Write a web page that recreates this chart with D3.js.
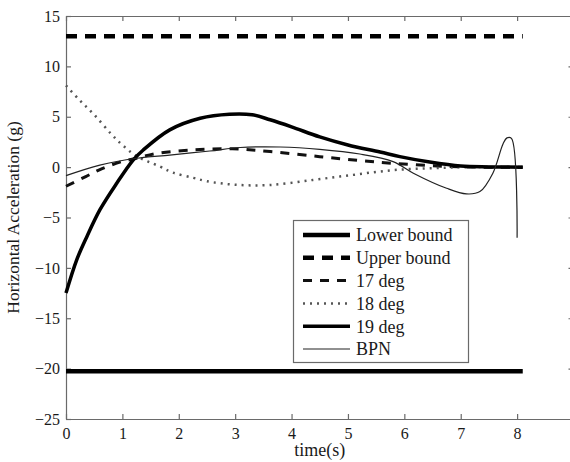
<!DOCTYPE html>
<html>
<head>
<meta charset="utf-8">
<script src="https://cdn.jsdelivr.net/npm/d3@7"></script>
<style>
  html, body { margin: 0; padding: 0; background: #fff; overflow: hidden; }
  svg { display: block; }
  text { font-family: "Liberation Serif", "Times New Roman", serif; fill: #1a1a1a; }
</style>
</head>
<body>
<svg id="chart" width="570" height="462"></svg>
<script>
// Horizontal acceleration profiles vs. time for several launch angles
const xTicks = [0, 1, 2, 3, 4, 5, 6, 7, 8, 9];
const yTicks = [-25, -20, -15, -10, -5, 0, 5, 10, 15];

const boundTime = [0, 8.1];
const lowerBound = [-20.25, -20.25];
const upperBound = [13, 13];

const t17 = [0, 0.35, 0.64, 0.99, 1.25, 1.6, 2.26, 2.95, 3.62, 4.5, 5.21, 5.8, 6.45, 7.0, 8.1];
const v17 = [-1.9, -0.94, -0.15, 0.55, 0.88, 1.35, 1.72, 1.82, 1.55, 1.04, 0.65, 0.38, 0.15, 0.02, 0];

const t18 = [0, 0.25, 0.5, 0.8, 1.0, 1.25, 1.67, 1.9, 2.26, 2.5, 3.0, 3.6, 4.38, 5.09, 5.8, 6.5, 7.2, 8.1];
const v18 = [8.1, 6.6, 5.2, 3.3, 2.2, 1.1, 0.05, -0.55, -1.07, -1.4, -1.75, -1.78, -1.27, -0.77, -0.3, -0.1, 0, 0];

const t19 = [0, 0.19, 0.37, 0.6, 0.9, 1.19, 1.37, 1.84, 2.38, 2.9, 3.3, 3.62, 4.0, 4.5, 5.0, 5.57, 5.92, 6.45, 7.0, 7.5, 8.1];
const v19 = [-12.5, -9.2, -6.9, -4.25, -1.6, 0.7, 1.7, 3.7, 4.85, 5.25, 5.2, 4.7, 4.0, 3.0, 2.2, 1.5, 1.04, 0.5, 0.1, 0.02, 0];

const tBPN = [0, 0.6, 1.25, 1.84, 2.55, 3.09, 3.8, 4.5, 5.21, 5.8, 6.16, 6.75, 7.1, 7.34, 7.57, 7.75, 7.82, 7.9, 8.0];
const vBPN = [-0.85, 0.2, 0.88, 1.2, 1.6, 1.95, 2.0, 1.77, 1.3, 0.55, -0.6, -2.1, -2.66, -2.43, -0.6, 2.3, 2.9, 2.85, -7.0];

const seriesNames = ["Lower bound", "Upper bound", "17 deg", "18 deg", "19 deg", "BPN"];

const zip = (ts, vs) => ts.map((t, i) => ({ t, v: vs[i] }));

const series = [
  { name: seriesNames[0], data: zip(boundTime, lowerBound), width: 4.5, dash: null, color: "#000" },
  { name: seriesNames[1], data: zip(boundTime, upperBound), width: 4.5, dash: "11,8", color: "#000" },
  { name: seriesNames[2], data: zip(t17, v17), width: 3, dash: "9,8", color: "#111" },
  { name: seriesNames[3], data: zip(t18, v18), width: 2.5, dash: "2,5", color: "#555" },
  { name: seriesNames[4], data: zip(t19, v19), width: 3.5, dash: null, color: "#000" },
  { name: seriesNames[5], data: zip(tBPN, vBPN), width: 1.2, dash: null, color: "#222" }
];

const svg = d3.select("#chart");
const plotLeft = 66, plotRight = 573.5, plotTop = 16, plotBottom = 419;

const x = d3.scaleLinear().domain([0, 9]).range([plotLeft, plotRight]);
const y = d3.scaleLinear().domain([-25, 15]).range([plotBottom, plotTop]);

const axisColor = "#6a6a6a";

// frame axes with inward ticks
const gx = svg.append("g").attr("transform", `translate(0,${plotBottom})`)
  .call(d3.axisBottom(x).tickValues(xTicks).tickSizeInner(-5).tickSizeOuter(0).tickPadding(9));
const gy = svg.append("g").attr("transform", `translate(${plotLeft},0)`)
  .call(d3.axisLeft(y).tickValues(yTicks).tickSizeInner(-5).tickSizeOuter(0).tickPadding(6));
const gt = svg.append("g").attr("transform", `translate(0,${plotTop})`)
  .call(d3.axisTop(x).tickValues(xTicks).tickSizeInner(-5).tickSizeOuter(0).tickFormat(""));
const gr = svg.append("g").attr("transform", `translate(${plotRight},0)`)
  .call(d3.axisRight(y).tickValues(yTicks).tickSizeInner(-5).tickSizeOuter(0).tickFormat(""));

[gx, gy, gt, gr].forEach(g => {
  g.select(".domain").attr("stroke", axisColor).attr("stroke-width", 1.2);
  g.selectAll(".tick line").attr("stroke", axisColor).attr("stroke-width", 1.2);
  g.selectAll(".tick text").attr("font-size", 16)
    .attr("font-family", "'Liberation Serif', 'Times New Roman', serif").attr("fill", "#1a1a1a");
});

// series lines
const line = d3.line().x(d => x(d.t)).y(d => y(d.v)).curve(d3.curveCatmullRom.alpha(0.5));
svg.append("g").selectAll("path").data(series).join("path")
  .attr("d", d => line(d.data))
  .attr("fill", "none")
  .attr("stroke", d => d.color)
  .attr("stroke-width", d => d.width)
  .attr("stroke-dasharray", d => d.dash)
  .attr("stroke-linejoin", "round");

// legend
const lg = svg.append("g");
lg.append("rect").attr("x", 293.5).attr("y", 220.5).attr("width", 175).attr("height", 142)
  .attr("fill", "#fff").attr("stroke", axisColor).attr("stroke-width", 1.2);
const rowY = i => 235 + i * 22.8;
const rows = lg.selectAll("g.row").data(series).join("g").attr("class", "row");
rows.append("line")
  .attr("x1", 303).attr("x2", 350)
  .attr("y1", (d, i) => rowY(i)).attr("y2", (d, i) => rowY(i))
  .attr("stroke", d => d.color)
  .attr("stroke-width", d => d.width)
  .attr("stroke-dasharray", d => d.dash);
rows.append("text")
  .attr("x", 356).attr("y", (d, i) => rowY(i)).attr("dy", "0.35em")
  .attr("font-size", 18)
  .text(d => d.name);

// axis titles
svg.append("text").attr("x", (plotLeft + plotRight) / 2).attr("y", 456)
  .attr("text-anchor", "middle").attr("font-size", 18).text("time(s)");
svg.append("text").attr("transform", `translate(19,${(plotTop + plotBottom) / 2}) rotate(-90)`)
  .attr("text-anchor", "middle").attr("font-size", 17.5).text("Horizontal Acceleration (g)");
</script>
</body>
</html>
